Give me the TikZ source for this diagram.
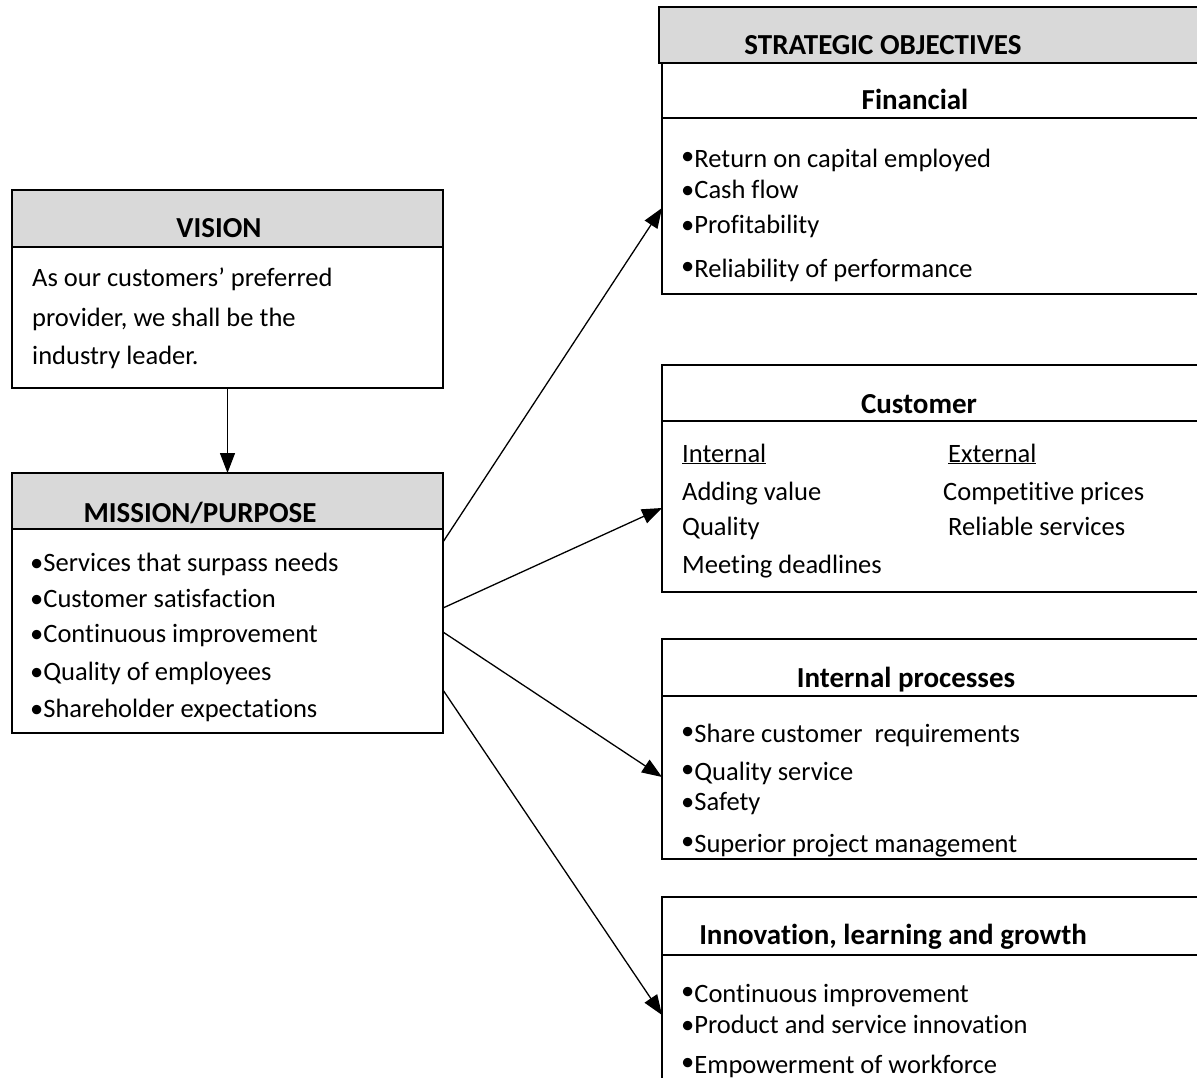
\documentclass[tikz,border=0pt]{standalone}
\usepackage{fontspec}
\setmainfont{Carlito}[Ligatures={NoCommon,NoRequired,NoContextual}]
\usetikzlibrary{arrows.meta,calc}
\definecolor{hdrgray}{HTML}{D9D9D9}
\newcommand\rbul{\raisebox{3pt}{•}}
\tikzset{
  box/.style={draw, line width=1.6pt, inner sep=0pt, outer sep=0pt, anchor=north west},
  hdr/.style={box, fill=hdrgray},
  ttl/.style={font=\bfseries\fontsize{29}{34}\selectfont, anchor=base, inner sep=0pt},
  txt/.style={font=\fontsize{26.5}{32}\selectfont, anchor=base west, inner sep=0pt},
  arr/.style={line width=1.3pt, arrows={-Triangle[length=20pt,width=15pt]}}
}
\begin{document}
\begin{tikzpicture}[x=1pt,y=-1pt]
\useasboundingbox (0,0) rectangle (1197,1078);
\clip (0,0) rectangle (1197,1078);
\fill[white] (0,0) rectangle (1197,1078);
% left column
\node[hdr, minimum width=431pt, minimum height=57pt] (vish) at (12,190) {};
\node[box, minimum width=431pt, minimum height=141pt] (visb) at (12,247) {};
\node[hdr, minimum width=431pt, minimum height=56pt] (mish) at (12,473) {};
\node[box, minimum width=431pt, minimum height=204pt] (misb) at (12,529) {};
% right column
\node[hdr, minimum width=560pt, minimum height=56pt] (soh) at (659,7) {};
\node[box, minimum width=560pt, minimum height=55pt] (fint) at (662,63) {};
\node[box, minimum width=560pt, minimum height=176pt] (finb) at (662,118) {};
\node[box, minimum width=560pt, minimum height=56pt] (cust) at (662,365) {};
\node[box, minimum width=560pt, minimum height=171pt] (cusb) at (662,421) {};
\node[box, minimum width=560pt, minimum height=57pt] (ipt) at (662,639) {};
\node[box, minimum width=560pt, minimum height=163pt] (ipb) at (662,696) {};
\node[box, minimum width=560pt, minimum height=58pt] (ilt) at (662,897) {};
\node[box, minimum width=560pt, minimum height=160pt] (ilb) at (662,955) {};
% titles
\node[ttl] (tvis) at (219,237) {VISION};
\node[ttl] (tmis) at (200,522) {MISSION/PURPOSE};
\node[ttl] (tso) at (883,55) {STRATEGIC OBJECTIVES};
\node[ttl] (tfin) at (915,110) {Financial};
\node[ttl] (tcus) at (919,413) {Customer};
\node[ttl] (tip) at (906,687) {Internal processes};
\node[ttl] (til) at (893,944) {Innovation, learning and growth};
% vision text
\node[txt] (v1) at (32,286) {As our customers’ preferred};
\node[txt] (v2) at (32,326) {provider, we shall be the};
\node[txt] (v3) at (32,364) {industry leader.};
% mission text
\node[txt] (m1) at (30,571) {•Services that surpass needs};
\node[txt] (m2) at (30,607) {•Customer satisfaction};
\node[txt] (m3) at (30,642) {•Continuous improvement};
\node[txt] (m4) at (30,680) {•Quality of employees};
\node[txt] (m5) at (30,717) {•Shareholder expectations};
% financial
\node[txt] (f1) at (681,168) {\rbul Return on capital employed};
\node[txt] (f2) at (681,199) {•Cash flow};
\node[txt] (f3) at (681,234) {•Profitability};
\node[txt] (f4) at (681,277) {\rbul Reliability of performance};
% customer
\node[txt] (c1) at (682,462) {\underline{Internal}};
\node[txt] (c2) at (948,462) {\underline{External}};
\node[txt] (c3) at (682,500) {Adding value};
\node[txt] (c4) at (943,500) {Competitive prices};
\node[txt] (c5) at (682,535) {Quality};
\node[txt] (c6) at (948,535) {Reliable services};
\node[txt] (c7) at (682,573) {Meeting deadlines};
% internal processes
\node[txt] (p1) at (681,742) {\rbul Share customer\ \ requirements};
\node[txt] (p2) at (681,780) {\rbul Quality service};
\node[txt] (p3) at (681,810) {•Safety};
\node[txt] (p4) at (681,852) {\rbul Superior project management};
% innovation
\node[txt] (i1) at (681,1002) {\rbul Continuous improvement};
\node[txt] (i2) at (681,1033) {•Product and service innovation};
\node[txt] (i3) at (681,1073) {\rbul Empowerment of workforce};
% connectors
\draw[arr] (visb.south) -- (mish.north);
\draw[arr] ($(misb.north east)+(0,13)$) -- ($(finb.north west)+(0,90)$);
\draw[arr] ($(misb.north east)+(0,79)$) -- ($(cusb.north west)+(0,87)$);
\draw[arr] ($(misb.north east)+(0,103)$) -- ($(ipb.north west)+(0,81)$);
\draw[arr] ($(misb.north east)+(0,161)$) -- ($(ilb.north west)+(0,60)$);
\end{tikzpicture}
\end{document}
